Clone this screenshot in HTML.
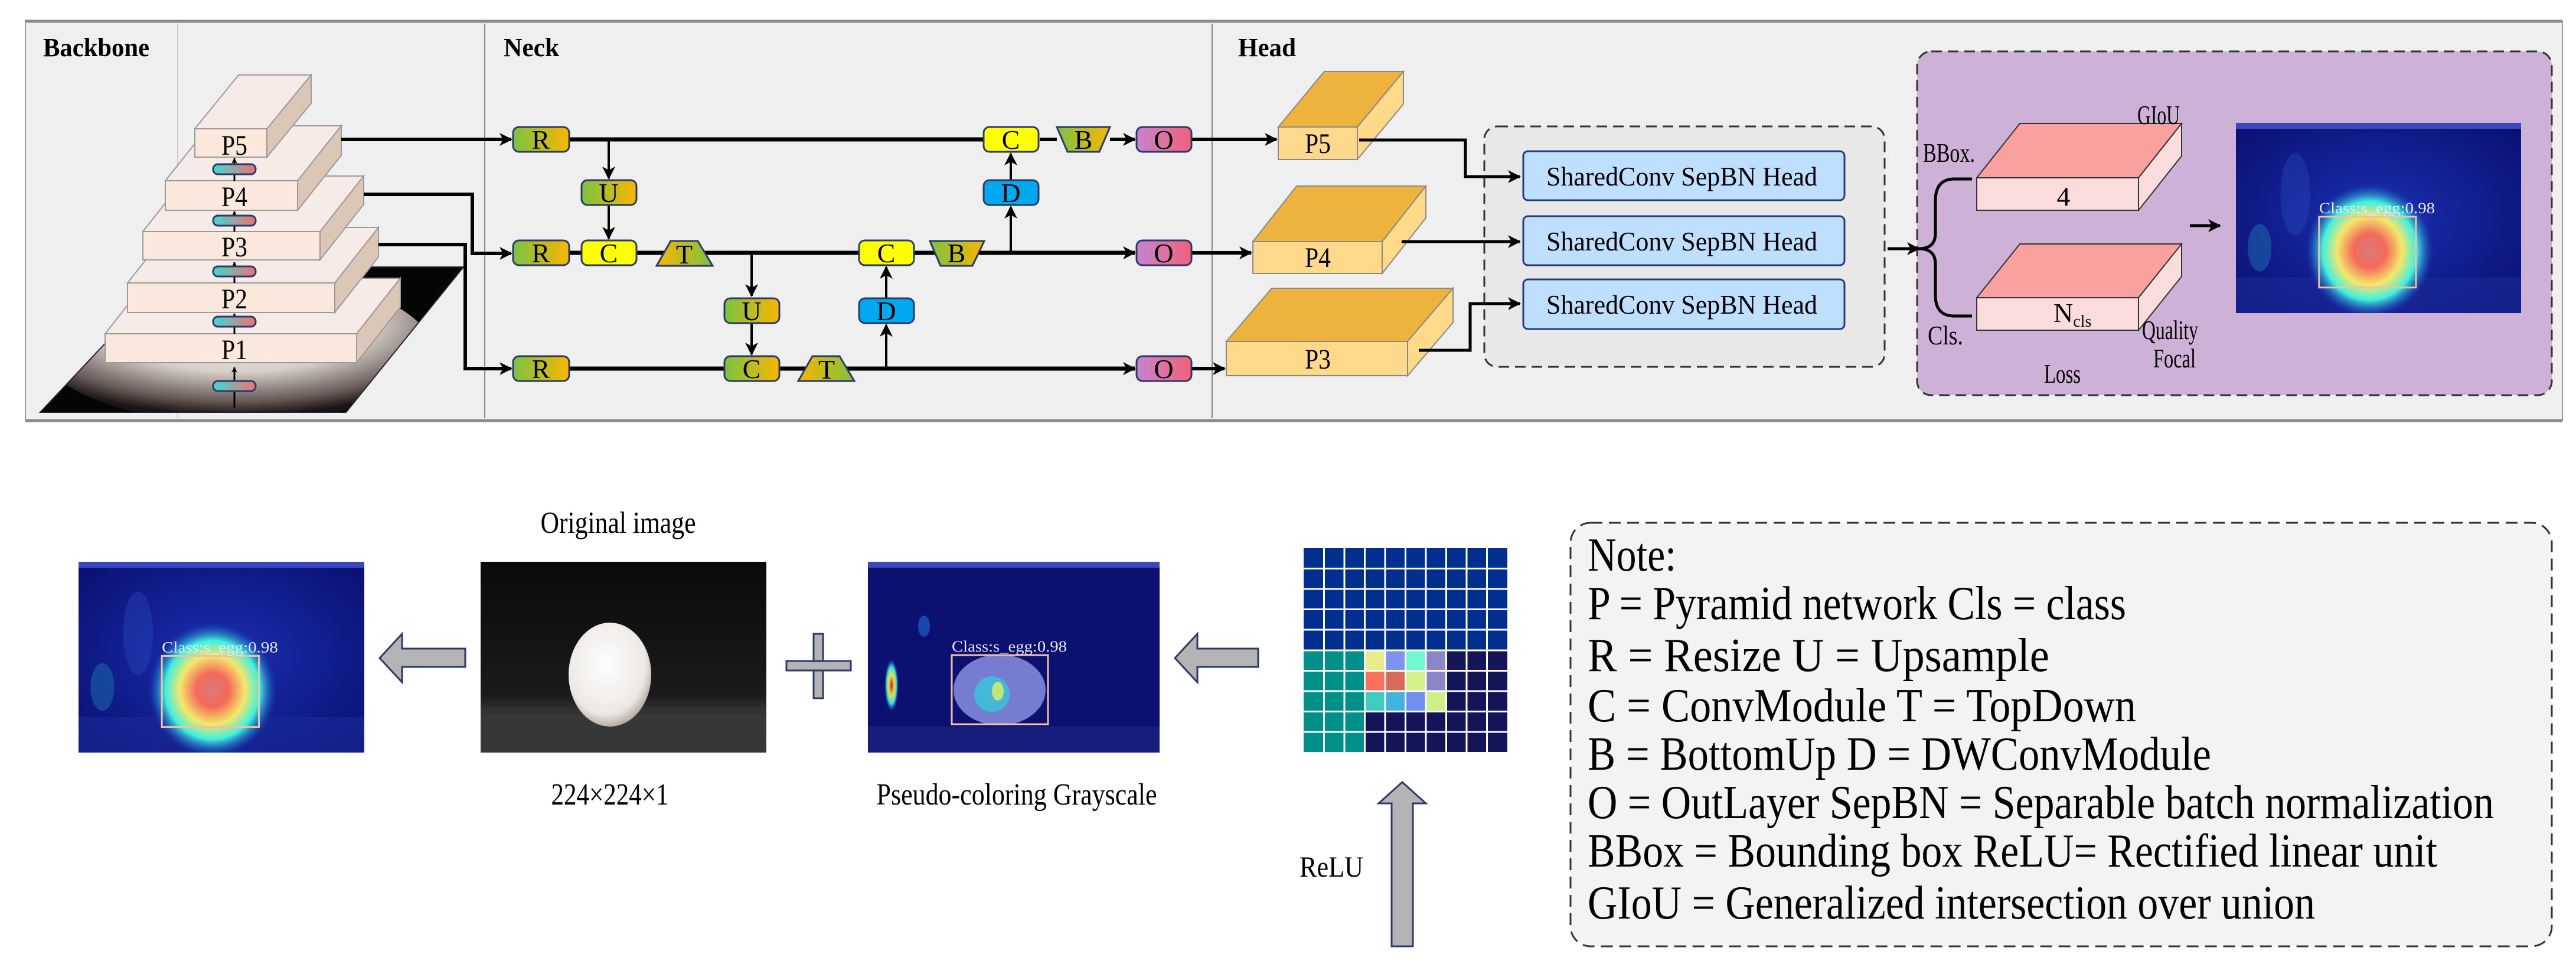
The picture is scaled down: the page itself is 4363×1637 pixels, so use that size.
<!DOCTYPE html>
<html><head><meta charset="utf-8"><style>
html,body{margin:0;padding:0;background:#fff;}
svg{display:block;}
text{font-family:"Liberation Serif",serif;}
</style></head><body>
<svg width="4363" height="1637" viewBox="0 0 4363 1637" xmlns="http://www.w3.org/2000/svg">
<defs>
<linearGradient id="gGO" x1="0" x2="1" y1="0" y2="0"><stop offset="0" stop-color="#7cc242"/><stop offset="1" stop-color="#f9b600"/></linearGradient>
<linearGradient id="gOG" x1="0" x2="1" y1="0" y2="0"><stop offset="0" stop-color="#f9b600"/><stop offset="1" stop-color="#7cc242"/></linearGradient>
<linearGradient id="gOut" x1="0" x2="1" y1="0" y2="0"><stop offset="0" stop-color="#c684d0"/><stop offset="1" stop-color="#f2607a"/></linearGradient>
<linearGradient id="gCap" x1="0" x2="1" y1="0" y2="0"><stop offset="0" stop-color="#40d8d0"/><stop offset="1" stop-color="#f27070"/></linearGradient>
<radialGradient id="gEggBase" cx="0.5" cy="0.3" r="0.65"><stop offset="0" stop-color="#fbf8f6"/><stop offset="0.55" stop-color="#d8cfc9"/><stop offset="0.85" stop-color="#6a5c58"/><stop offset="1" stop-color="#1a1414"/></radialGradient>
<radialGradient id="gHeat" cx="0.5" cy="0.5" r="0.5"><stop offset="0" stop-color="#d87a7a"/><stop offset="0.25" stop-color="#f46a5a"/><stop offset="0.5" stop-color="#f4e86a"/><stop offset="0.72" stop-color="#40f0e0"/><stop offset="0.9" stop-color="#2060c0" stop-opacity="0.5"/><stop offset="1" stop-color="#1020a0" stop-opacity="0"/></radialGradient>
<radialGradient id="gBlue" cx="0.5" cy="0.5" r="0.7"><stop offset="0" stop-color="#1a2fb0"/><stop offset="1" stop-color="#0a0f70"/></radialGradient>
<radialGradient id="gEgg" cx="0.45" cy="0.4" r="0.6"><stop offset="0" stop-color="#ffffff"/><stop offset="0.8" stop-color="#ece8e4"/><stop offset="1" stop-color="#b8b0a8"/></radialGradient>
<linearGradient id="gDark" x1="0" x2="0" y1="0" y2="1"><stop offset="0" stop-color="#0b0a0a"/><stop offset="0.7" stop-color="#1a1a1a"/><stop offset="0.78" stop-color="#333"/><stop offset="1" stop-color="#2a2a2a"/></linearGradient>
<radialGradient id="gSpot" cx="0.5" cy="0.5" r="0.5"><stop offset="0" stop-color="#d02020"/><stop offset="0.4" stop-color="#f0e040"/><stop offset="0.7" stop-color="#30e0e0"/><stop offset="1" stop-color="#2040c0" stop-opacity="0"/></radialGradient>
<marker id="ah" markerWidth="10" markerHeight="10" refX="9" refY="5" orient="auto" markerUnits="userSpaceOnUse" viewBox="0 0 10 10"><path d="M0,0 L10,5 L0,10 L3,5 z" fill="#000"/></marker>
<marker id="ahB" markerWidth="22" markerHeight="22" refX="20" refY="11" orient="auto" markerUnits="userSpaceOnUse" viewBox="0 0 22 22"><path d="M0,0 L22,11 L0,22 L6,11 z" fill="#000"/></marker>
<symbol id="heat" viewBox="0 0 480 320" preserveAspectRatio="none">
<rect width="480" height="320" fill="url(#gBlue)"/>
<rect x="0" y="0" width="480" height="10" fill="#3a48c0"/>
<rect x="0" y="260" width="480" height="60" fill="#1a2a9a" opacity="0.6"/>
<ellipse cx="100" cy="120" rx="25" ry="70" fill="#2a50c0" opacity="0.35"/>
<ellipse cx="40" cy="210" rx="20" ry="40" fill="#1e70b0" opacity="0.5"/>
<ellipse cx="225" cy="215" rx="110" ry="115" fill="url(#gHeat)"/>
<rect x="140" y="158" width="163" height="119" fill="none" stroke="#f0c0a0" stroke-width="3"/>
<text x="140" y="152" font-family="Liberation Sans,sans-serif" font-size="26" fill="#e8e8f8" textLength="195" lengthAdjust="spacingAndGlyphs">Class:s_egg:0.98</text>
</symbol>
</defs>

<rect x="42" y="36" width="4298" height="676" fill="#efefef"/>
<line x1="42" y1="36" x2="4340" y2="36" stroke="#8a8a8a" stroke-width="5"/>
<line x1="42" y1="712" x2="4340" y2="712" stroke="#8a8a8a" stroke-width="5"/>
<line x1="43" y1="36" x2="43" y2="712" stroke="#999" stroke-width="2"/>
<line x1="4340" y1="36" x2="4340" y2="712" stroke="#999" stroke-width="2"/>
<line x1="301" y1="40" x2="301" y2="708" stroke="#cfcfcf" stroke-width="2"/>
<line x1="821" y1="40" x2="821" y2="708" stroke="#888" stroke-width="2"/>
<line x1="2053" y1="40" x2="2053" y2="708" stroke="#888" stroke-width="2"/>
<text x="73" y="95" font-size="44" font-weight="bold" textLength="180" lengthAdjust="spacingAndGlyphs">Backbone</text>
<text x="853" y="95" font-size="44" font-weight="bold" textLength="94" lengthAdjust="spacingAndGlyphs">Neck</text>
<text x="2097" y="95" font-size="44" font-weight="bold" textLength="98" lengthAdjust="spacingAndGlyphs">Head</text>

<polygon points="68,698 586,698 785,452 300,452" fill="#050505"/>
<clipPath id="cb"><polygon points="68,698 586,698 785,452 300,452"/></clipPath>
<ellipse cx="400" cy="590" rx="330" ry="125" fill="url(#gEggBase)" clip-path="url(#cb)"/>
<polygon points="68,698 586,698 785,452 300,452" fill="none" stroke="#223" stroke-width="2"/>
<g stroke="#9a9a9a" stroke-width="2">
<polygon points="178,565 252,471 678,471 604,565" fill="#f6ebe6"/><polygon points="604,565 678,471 678,520 604,614" fill="#dcc7b6"/><rect x="178" y="565" width="426" height="49" fill="#fbe8dc"/>
<polygon points="216,479 290,385 641,385 567,479" fill="#f6ebe6"/><polygon points="567,479 641,385 641,435 567,529" fill="#dcc7b6"/><rect x="216" y="479" width="351" height="50" fill="#fbe8dc"/>
<polygon points="242,392 316,298 616,298 542,392" fill="#f6ebe6"/><polygon points="542,392 616,298 616,346 542,440" fill="#dcc7b6"/><rect x="242" y="392" width="300" height="48" fill="#fbe8dc"/>
<polygon points="280,306 354,213 578,213 504,306" fill="#f6ebe6"/><polygon points="504,306 578,213 578,263 504,356" fill="#dcc7b6"/><rect x="280" y="306" width="224" height="50" fill="#fbe8dc"/>
<polygon points="330,218 404,127 527,127 452,218" fill="#f6ebe6"/><polygon points="452,218 527,127 527,175 452,266" fill="#dcc7b6"/><rect x="330" y="218" width="122" height="48" fill="#fbe8dc"/>
</g>
<g stroke="#000" stroke-width="3">
<line x1="397" y1="690" x2="397" y2="622" marker-end="url(#ah)"/>
<line x1="397" y1="565" x2="397" y2="531" marker-end="url(#ah)"/>
<line x1="397" y1="479" x2="397" y2="444" marker-end="url(#ah)"/>
<line x1="397" y1="392" x2="397" y2="358" marker-end="url(#ah)"/>
<line x1="397" y1="306" x2="397" y2="268" marker-end="url(#ah)"/>
</g>
<g fill="url(#gCap)" stroke="#2a3a6a" stroke-width="3">
<rect x="361" y="278" width="72" height="17" rx="8"/>
<rect x="361" y="365" width="72" height="17" rx="8"/>
<rect x="361" y="451" width="72" height="17" rx="8"/>
<rect x="361" y="536" width="72" height="17" rx="8"/>
<rect x="361" y="645" width="72" height="17" rx="8"/>
</g>
<g font-size="48" text-anchor="middle">
<text x="397" y="262" textLength="44" lengthAdjust="spacingAndGlyphs">P5</text><text x="397" y="349" textLength="44" lengthAdjust="spacingAndGlyphs">P4</text><text x="397" y="434" textLength="44" lengthAdjust="spacingAndGlyphs">P3</text><text x="397" y="522" textLength="44" lengthAdjust="spacingAndGlyphs">P2</text><text x="397" y="608" textLength="44" lengthAdjust="spacingAndGlyphs">P1</text>
</g>

<g stroke="#000" fill="none">
<polyline points="578,236 866,236" stroke-width="6" marker-end="url(#ahB)"/>
<polyline points="616,329 800,329 800,429 866,429" stroke-width="6" marker-end="url(#ahB)"/>
<polyline points="641,414 788,414 788,624 866,624" stroke-width="6" marker-end="url(#ahB)"/>
<line x1="964" y1="236" x2="1665" y2="236" stroke-width="7"/>
<line x1="1761" y1="236" x2="1790" y2="236" stroke-width="6"/>
<line x1="1880" y1="236" x2="1922" y2="236" stroke-width="6" marker-end="url(#ahB)"/>
<line x1="2018" y1="236" x2="2162" y2="236" stroke-width="6" marker-end="url(#ahB)"/>
<line x1="964" y1="428" x2="1922" y2="428" stroke-width="7" marker-end="url(#ahB)"/>
<line x1="2018" y1="428" x2="2119" y2="428" stroke-width="6" marker-end="url(#ahB)"/>
<line x1="964" y1="624" x2="1922" y2="624" stroke-width="7" marker-end="url(#ahB)"/>
<line x1="2018" y1="624" x2="2074" y2="624" stroke-width="6" marker-end="url(#ahB)"/>
<line x1="1031" y1="236" x2="1031" y2="302" stroke-width="4" marker-end="url(#ahB)"/>
<line x1="1031" y1="347" x2="1031" y2="404" stroke-width="4" marker-end="url(#ahB)"/>
<line x1="1273" y1="428" x2="1273" y2="501" stroke-width="4" marker-end="url(#ahB)"/>
<line x1="1273" y1="547" x2="1273" y2="600" stroke-width="4" marker-end="url(#ahB)"/>
<line x1="1501" y1="624" x2="1501" y2="550" stroke-width="4" marker-end="url(#ahB)"/>
<line x1="1501" y1="505" x2="1501" y2="452" stroke-width="4" marker-end="url(#ahB)"/>
<line x1="1712" y1="428" x2="1712" y2="350" stroke-width="4" marker-end="url(#ahB)"/>
<line x1="1712" y1="305" x2="1712" y2="260" stroke-width="4" marker-end="url(#ahB)"/>
</g>
<g stroke="#2a3a6a" stroke-width="3">
<rect x="869" y="215" width="95" height="42" rx="10" fill="url(#gGO)"/>
<rect x="869" y="407" width="95" height="42" rx="10" fill="url(#gGO)"/>
<rect x="869" y="603" width="95" height="42" rx="10" fill="url(#gGO)"/>
<rect x="985" y="305" width="93" height="42" rx="10" fill="url(#gGO)"/>
<rect x="985" y="407" width="93" height="42" rx="10" fill="#ffff00"/>
<polygon points="1136,408 1182,408 1207,450 1112,450" fill="url(#gOG)"/>
<rect x="1227" y="505" width="93" height="42" rx="10" fill="url(#gGO)"/>
<rect x="1227" y="603" width="93" height="42" rx="10" fill="url(#gGO)"/>
<polygon points="1376,603 1422,603 1447,645 1352,645" fill="url(#gOG)"/>
<rect x="1455" y="505" width="93" height="42" rx="10" fill="#00a8ee"/>
<rect x="1455" y="407" width="93" height="42" rx="10" fill="#ffff00"/>
<polygon points="1575,408 1667,408 1647,450 1593,450" fill="url(#gGO)"/>
<rect x="1666" y="305" width="93" height="42" rx="10" fill="#00a8ee"/>
<rect x="1666" y="215" width="93" height="42" rx="10" fill="#ffff00"/>
<polygon points="1790,215 1880,215 1862,257 1808,257" fill="url(#gGO)"/>
<rect x="1925" y="215" width="93" height="42" rx="10" fill="url(#gOut)"/>
<rect x="1925" y="407" width="93" height="42" rx="10" fill="url(#gOut)"/>
<rect x="1925" y="603" width="93" height="42" rx="10" fill="url(#gOut)"/>
</g>
<g font-size="46" text-anchor="middle">
<text x="916" y="252">R</text><text x="916" y="444">R</text><text x="916" y="640">R</text>
<text x="1031" y="342">U</text><text x="1031" y="444">C</text><text x="1159" y="446">T</text>
<text x="1273" y="542">U</text><text x="1273" y="640">C</text><text x="1400" y="641">T</text>
<text x="1501" y="542">D</text><text x="1501" y="444">C</text><text x="1620" y="444">B</text>
<text x="1712" y="342">D</text><text x="1712" y="252">C</text><text x="1835" y="252">B</text>
<text x="1971" y="252">O</text><text x="1971" y="444">O</text><text x="1971" y="640">O</text>
</g>

<g stroke="#888" stroke-width="2">
<polygon points="2165,215 2243,121 2377,121 2299,215" fill="#eeb33c"/><polygon points="2299,215 2377,121 2377,176 2299,270" fill="#fdd98a"/><rect x="2165" y="215" width="134" height="55" fill="#fed98c"/>
<polygon points="2122,409 2196,315 2415,315 2341,409" fill="#eeb33c"/><polygon points="2341,409 2415,315 2415,369 2341,463" fill="#fdd98a"/><rect x="2122" y="409" width="219" height="54" fill="#fed98c"/>
<polygon points="2077,578 2154,488 2461,488 2384,578" fill="#eeb33c"/><polygon points="2384,578 2461,488 2461,546 2384,636" fill="#fdd98a"/><rect x="2077" y="578" width="307" height="58" fill="#fed98c"/>
</g>
<g font-size="48" text-anchor="middle">
<text x="2232" y="259" textLength="44" lengthAdjust="spacingAndGlyphs">P5</text><text x="2232" y="452" textLength="44" lengthAdjust="spacingAndGlyphs">P4</text><text x="2232" y="624" textLength="44" lengthAdjust="spacingAndGlyphs">P3</text>
</g>
<rect x="2514" y="214" width="678" height="407" rx="22" fill="#e8e8e8" stroke="#333" stroke-width="3" stroke-dasharray="18,10"/>
<g stroke="#000" fill="none" stroke-width="5">
<polyline points="2302,237 2482,237 2482,299 2574,299" marker-end="url(#ahB)"/>
<polyline points="2374,409 2574,409" marker-end="url(#ahB)"/>
<polyline points="2403,593 2490,593 2490,514 2574,514" marker-end="url(#ahB)"/>
</g>
<g fill="#bfdfff" stroke="#2a3a7a" stroke-width="3">
<rect x="2580" y="256" width="544" height="83" rx="8"/>
<rect x="2580" y="366" width="544" height="83" rx="8"/>
<rect x="2580" y="473" width="544" height="84" rx="8"/>
</g>
<g font-size="46">
<text x="2619" y="314" textLength="459" lengthAdjust="spacingAndGlyphs">SharedConv SepBN Head</text>
<text x="2619" y="424" textLength="459" lengthAdjust="spacingAndGlyphs">SharedConv SepBN Head</text>
<text x="2619" y="531" textLength="459" lengthAdjust="spacingAndGlyphs">SharedConv SepBN Head</text>
</g>

<rect x="3247" y="87" width="1075" height="582" rx="24" fill="#cdb1d7" stroke="#333" stroke-width="3" stroke-dasharray="18,10"/>
<line x1="3197" y1="421" x2="3250" y2="421" stroke="#000" stroke-width="5" marker-end="url(#ahB)"/>
<path d="M3340,303 L3310,303 Q3278,303 3278,340 L3278,395 Q3278,421 3250,421 Q3278,421 3278,447 L3278,500 Q3278,535 3310,535 L3340,535" fill="none" stroke="#000" stroke-width="5"/>
<g stroke="#333" stroke-width="2">
<polygon points="3348,301 3421,209 3695,209 3622,301" fill="#f9a19e"/><polygon points="3622,301 3695,209 3695,264 3622,356" fill="#fbdcdc"/><rect x="3348" y="301" width="274" height="55" fill="#fbdcdc"/>
<polygon points="3348,504 3421,413 3695,413 3622,504" fill="#f9a19e"/><polygon points="3622,504 3695,413 3695,468 3622,559" fill="#fbdcdc"/><rect x="3348" y="504" width="274" height="55" fill="#fbdcdc"/>
</g>
<g font-size="46">
<text x="3620" y="210" textLength="72" lengthAdjust="spacingAndGlyphs">GIoU</text>
<text x="3257" y="274" textLength="88" lengthAdjust="spacingAndGlyphs">BBox.</text>
<text x="3495" y="348" text-anchor="middle">4</text>
<text x="3478" y="545">N<tspan font-size="28" dy="8">cls</tspan></text>
<text x="3265" y="583" textLength="60" lengthAdjust="spacingAndGlyphs">Cls.</text>
<text x="3628" y="574" textLength="95" lengthAdjust="spacingAndGlyphs">Quality</text>
<text x="3647" y="622" textLength="72" lengthAdjust="spacingAndGlyphs">Focal</text>
<text x="3462" y="648" textLength="62" lengthAdjust="spacingAndGlyphs">Loss</text>
</g>
<line x1="3709" y1="382" x2="3760" y2="382" stroke="#000" stroke-width="5" marker-end="url(#ahB)"/>
<use href="#heat" x="3787" y="208" width="483" height="322"/>

<use href="#heat" x="133" y="951" width="484" height="323"/>
<polygon points="643,1114 681,1073 681,1098 788,1098 788,1129 681,1129 681,1155" fill="#b4b4b4" stroke="#2a3a6a" stroke-width="3"/>
<rect x="814" y="951" width="484" height="323" fill="url(#gDark)"/>
<rect x="814" y="1210" width="484" height="64" fill="#3a3a3a" opacity="0.8"/>
<ellipse cx="1033" cy="1142" rx="70" ry="88" fill="url(#gEgg)"/>
<text x="1047" y="902" font-size="52" text-anchor="middle" textLength="263" lengthAdjust="spacingAndGlyphs">Original image</text>
<text x="1033" y="1362" font-size="52" text-anchor="middle" textLength="199" lengthAdjust="spacingAndGlyphs">224×224×1</text>
<rect x="1378" y="1073" width="16" height="109" fill="#b4b4b4" stroke="#2a3a6a" stroke-width="3"/>
<rect x="1332" y="1119" width="109" height="16" fill="#b4b4b4" stroke="#2a3a6a" stroke-width="3"/>
<rect x="1380" y="1121" width="12" height="12" fill="#b4b4b4"/>
<rect x="1470" y="951" width="494" height="323" fill="#0c1070"/>
<rect x="1470" y="951" width="494" height="10" fill="#3a48c0"/>
<rect x="1470" y="1230" width="494" height="44" fill="#1a2280" opacity="0.8"/>
<ellipse cx="1510" cy="1160" rx="12" ry="45" fill="url(#gSpot)"/>
<ellipse cx="1565" cy="1060" rx="10" ry="18" fill="#2a6ad0" opacity="0.6"/>
<ellipse cx="1693" cy="1168" rx="78" ry="60" fill="#8a90e0" opacity="0.85"/>
<ellipse cx="1680" cy="1175" rx="30" ry="30" fill="#30d0e0" opacity="0.7"/>
<ellipse cx="1690" cy="1170" rx="10" ry="16" fill="#e0f060" opacity="0.8"/>
<rect x="1612" y="1109" width="163" height="117" fill="none" stroke="#f0c0a0" stroke-width="3"/>
<text x="1612" y="1103" font-family="Liberation Sans,sans-serif" font-size="26" fill="#e8e8f8" textLength="195" lengthAdjust="spacingAndGlyphs">Class:s_egg:0.98</text>
<text x="1722" y="1362" font-size="52" text-anchor="middle" textLength="475" lengthAdjust="spacingAndGlyphs">Pseudo-coloring Grayscale</text>
<polygon points="1990,1114 2028,1073 2028,1098 2131,1098 2131,1129 2028,1129 2028,1155" fill="#b4b4b4" stroke="#2a3a6a" stroke-width="3"/>

<rect x="2208" y="928" width="345" height="173" fill="#002f8f"/>
<rect x="2208" y="1101" width="104" height="172" fill="#00908a"/>
<rect x="2312" y="1101" width="241" height="172" fill="#141458"/>
<rect x="2312" y="1101" width="35" height="35" fill="#e8ec88"/>
<rect x="2347" y="1101" width="34" height="35" fill="#7f92f0"/>
<rect x="2381" y="1101" width="35" height="35" fill="#70f8d0"/>
<rect x="2416" y="1101" width="34" height="35" fill="#8a86c8"/>
<rect x="2312" y="1136" width="35" height="34" fill="#fa7058"/>
<rect x="2347" y="1136" width="34" height="34" fill="#d86a58"/>
<rect x="2381" y="1136" width="35" height="34" fill="#d4f088"/>
<rect x="2416" y="1136" width="34" height="34" fill="#8a86c8"/>
<rect x="2312" y="1170" width="35" height="35" fill="#40ccc0"/>
<rect x="2347" y="1170" width="34" height="35" fill="#40b4dc"/>
<rect x="2381" y="1170" width="35" height="35" fill="#7090f0"/>
<rect x="2416" y="1170" width="34" height="35" fill="#d0ee88"/>
<g stroke="#ffffff" stroke-width="3">
<line x1="2242.5" y1="928" x2="2242.5" y2="1273"/><line x1="2277" y1="928" x2="2277" y2="1273"/><line x1="2311.5" y1="928" x2="2311.5" y2="1273"/><line x1="2346" y1="928" x2="2346" y2="1273"/><line x1="2380.5" y1="928" x2="2380.5" y2="1273"/><line x1="2415" y1="928" x2="2415" y2="1273"/><line x1="2449.5" y1="928" x2="2449.5" y2="1273"/><line x1="2484" y1="928" x2="2484" y2="1273"/><line x1="2518.5" y1="928" x2="2518.5" y2="1273"/>
<line x1="2208" y1="962.5" x2="2553" y2="962.5"/><line x1="2208" y1="997" x2="2553" y2="997"/><line x1="2208" y1="1031.5" x2="2553" y2="1031.5"/><line x1="2208" y1="1066" x2="2553" y2="1066"/><line x1="2208" y1="1101" x2="2553" y2="1101"/><line x1="2208" y1="1135.5" x2="2553" y2="1135.5"/><line x1="2208" y1="1170" x2="2553" y2="1170"/><line x1="2208" y1="1204.5" x2="2553" y2="1204.5"/><line x1="2208" y1="1239" x2="2553" y2="1239"/>
</g>
<polygon points="2375,1324 2415,1360 2393,1360 2393,1602 2357,1602 2357,1360 2335,1360" fill="#b4b4b4" stroke="#2a3a6a" stroke-width="3"/>
<text x="2201" y="1484" font-size="50" textLength="108" lengthAdjust="spacingAndGlyphs">ReLU</text>

<rect x="2660" y="885" width="1662" height="717" rx="34" fill="#f3f3f2" stroke="#333" stroke-width="3" stroke-dasharray="20,11"/>
<g font-size="80">
<text x="2689" y="966" textLength="150" lengthAdjust="spacingAndGlyphs">Note:</text>
<text x="2689" y="1048" textLength="912" lengthAdjust="spacingAndGlyphs">P = Pyramid network Cls = class</text>
<text x="2689" y="1136" textLength="782" lengthAdjust="spacingAndGlyphs">R = Resize    U = Upsample</text>
<text x="2689" y="1221" textLength="929" lengthAdjust="spacingAndGlyphs">C = ConvModule   T = TopDown</text>
<text x="2689" y="1303" textLength="1056" lengthAdjust="spacingAndGlyphs">B = BottomUp  D = DWConvModule</text>
<text x="2689" y="1385" textLength="1535" lengthAdjust="spacingAndGlyphs">O = OutLayer SepBN = Separable batch normalization</text>
<text x="2689" y="1467" textLength="1439" lengthAdjust="spacingAndGlyphs">BBox = Bounding box ReLU= Rectified linear unit</text>
<text x="2689" y="1555" textLength="1232" lengthAdjust="spacingAndGlyphs">GIoU = Generalized intersection over union</text>
</g>
</svg>
</body></html>
